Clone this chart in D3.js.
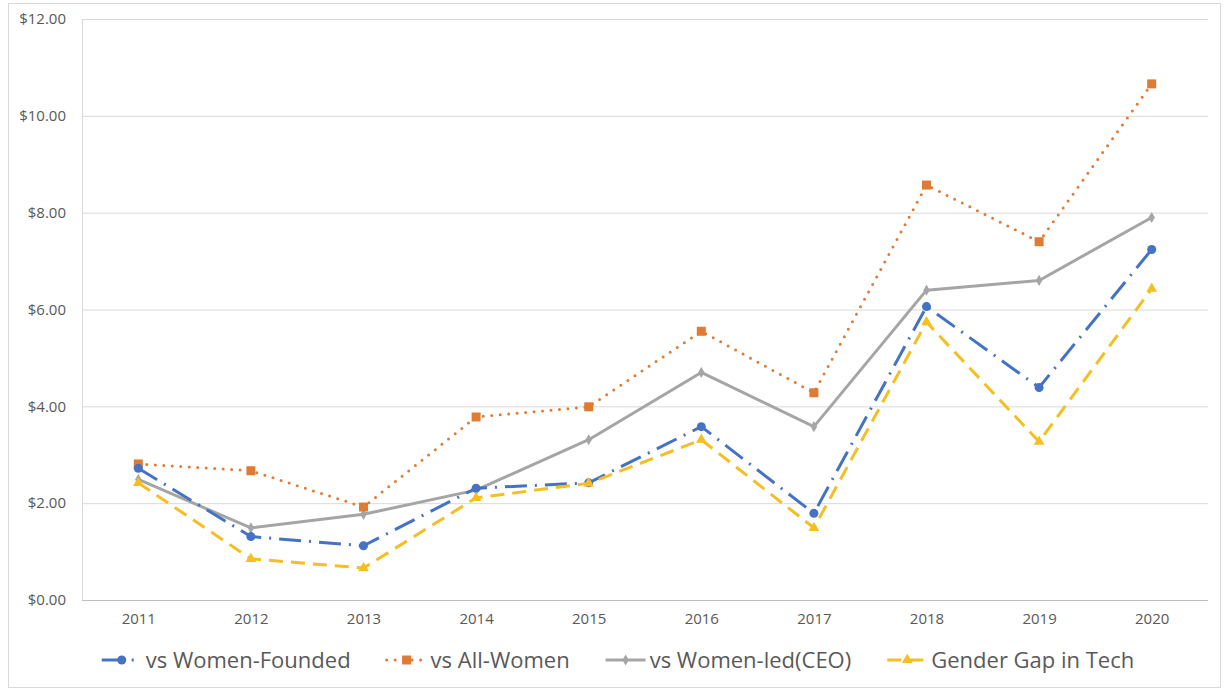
<!DOCTYPE html>
<html lang="en">
<head>
    <meta charset="UTF-8">
    <title>Funding gap</title>
    <script src="https://cdn.jsdelivr.net/npm/d3@7"></script>
    <style>
        html, body {
            margin: 0;
            padding: 0;
            background: #fff;
        }
        text {
            font-family: "Open Sans", Lato, sans-serif;
            fill: #595959;
        }
    </style>
</head>
<body>
<svg id="chart" width="1224" height="690"></svg>

<script>
    // data
    const years = ["2011", "2012", "2013", "2014", "2015", "2016", "2017", "2018", "2019", "2020"];
    const womenFounded = [2.72, 1.31, 1.12, 2.31, 2.42, 3.58, 1.79, 6.06, 4.39, 7.24];
    const allWomen = [2.81, 2.67, 1.92, 3.78, 3.99, 5.55, 4.28, 8.57, 7.40, 10.66];
    const womenLed = [2.49, 1.49, 1.77, 2.27, 3.31, 4.70, 3.58, 6.40, 6.60, 7.90];
    const genderGap = [2.42, 0.85, 0.66, 2.11, 2.41, 3.31, 1.49, 5.74, 3.27, 6.43];
    const yTicks = [0, 2, 4, 6, 8, 10, 12];

    const series = [
        {name: "vs Women-Founded", values: womenFounded, color: "#4472C4", dash: "22 8 2 8", cap: "butt", symbol: d3.symbolCircle, size: 64},
        {name: "vs All-Women", values: allWomen, color: "#E07B34", dash: "0 8.5", cap: "round", symbol: d3.symbolSquare, size: 81},
        {name: "vs Women-led(CEO)", values: womenLed, color: "#A5A5A5", dash: null, cap: "butt", symbol: d3.symbolDiamond, size: 36},
        {name: "Gender Gap in Tech", values: genderGap, color: "#F5BE22", dash: "14 8", cap: "butt", symbol: d3.symbolTriangle, size: 50}
    ];

    const svg = d3.select("#chart");
    const plotL = 82, plotR = 1208, plotT = 19, plotB = 600;

    // outer chart border
    svg.append("rect")
        .attr("x", 8.5).attr("y", 3.5)
        .attr("width", 1212).attr("height", 684)
        .attr("fill", "none")
        .attr("stroke", "#D9D9D9");

    const x = d3.scalePoint().domain(years).range([plotL, plotR]).padding(0.5);
    const y = d3.scaleLinear().domain([0, 12]).range([plotB, plotT]);

    // gridlines + y labels
    const yAxis = d3.axisLeft(y)
        .tickValues(yTicks)
        .tickSize(-(plotR - plotL))
        .tickPadding(16)
        .tickFormat(d => "$" + d3.format(".2f")(d));

    const gy = svg.append("g")
        .attr("transform", `translate(${plotL},0)`)
        .call(yAxis);
    gy.select(".domain").attr("stroke", "#D9D9D9");
    gy.selectAll(".tick line").attr("stroke", "#D9D9D9");
    gy.selectAll(".tick text").style("font-size", "15px").attr("fill", "#595959");

    // x axis
    const xAxis = d3.axisBottom(x).tickSize(0).tickPadding(13);
    const gx = svg.append("g")
        .attr("transform", `translate(0,${plotB})`)
        .call(xAxis);
    gx.select(".domain").attr("stroke", "#BFBFBF").attr("d", `M${plotL},0.5H${plotR}`);
    gx.selectAll(".tick text").style("font-size", "15px").attr("fill", "#595959");

    const line = d3.line()
        .x((d, i) => x(years[i]))
        .y(d => y(d));

    // draw lines, gray first so the others sit on top like the original
    const order = [2, 1, 0, 3];
    order.forEach(k => {
        const s = series[k];
        const g = svg.append("g");
        g.append("path")
            .datum(s.values)
            .attr("d", line)
            .attr("fill", "none")
            .attr("stroke", s.color)
            .attr("stroke-width", 3)
            .attr("stroke-linecap", s.cap)
            .attr("stroke-linejoin", "round")
            .attr("stroke-dasharray", s.dash);

        g.selectAll("path.mk")
            .data(s.values)
            .enter()
            .append("path")
            .attr("class", "mk")
            .attr("d", d3.symbol().type(s.symbol).size(s.size))
            .attr("transform", (d, i) => `translate(${x(years[i])},${y(d)})`)
            .attr("fill", s.color);
    });

    // legend
    const legend = svg.append("g").attr("transform", "translate(0,660)");
    const items = series.map(s => {
        const g = legend.append("g");
        g.append("line")
            .attr("x1", 0).attr("x2", 40)
            .attr("stroke", s.color)
            .attr("stroke-width", 3)
            .attr("stroke-linecap", s.cap)
            .attr("stroke-dasharray", s.dash);
        g.append("path")
            .attr("d", d3.symbol().type(s.symbol).size(s.size))
            .attr("transform", "translate(20,0)")
            .attr("fill", s.color);
        const t = g.append("text")
            .attr("x", 44)
            .attr("dy", "0.35em")
            .style("font-size", "22px")
            .text(s.name);
        return {g: g, w: 44 + t.node().getComputedTextLength()};
    });

    const gap = 36;
    const total = d3.sum(items, d => d.w) + gap * (items.length - 1);
    let cx = 618 - total / 2;
    items.forEach(it => {
        it.g.attr("transform", `translate(${cx},0)`);
        cx += it.w + gap;
    });
</script>
</body>
</html>
